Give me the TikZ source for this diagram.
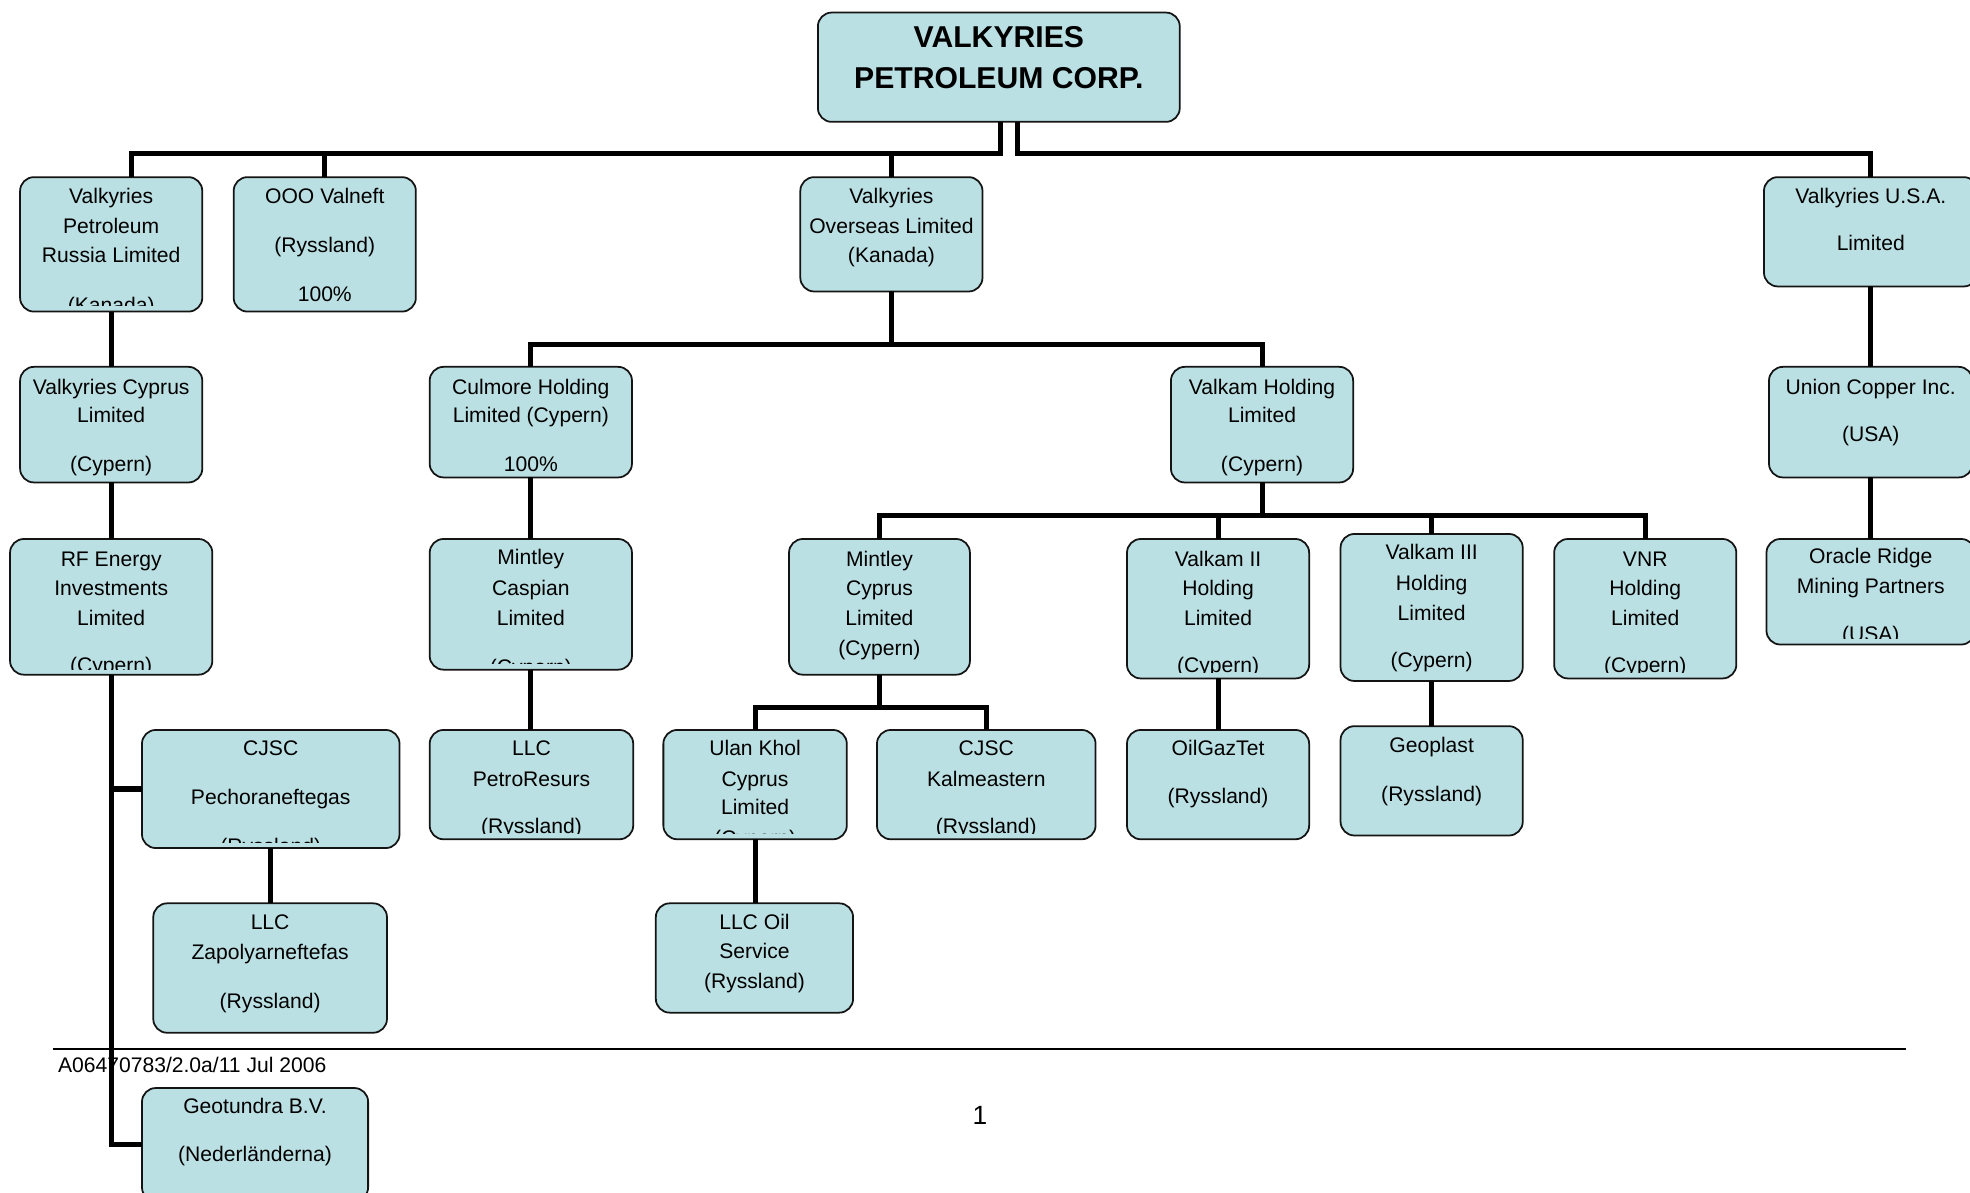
\documentclass[tikz,border=0pt]{standalone}
\usepackage{fontspec}
\setmainfont{Liberation Sans}
\usetikzlibrary{calc}
\definecolor{boxfill}{RGB}{187,224,227}
\definecolor{boxline}{RGB}{20,20,20}
\tikzset{
 orgbox/.style={rectangle, draw=boxline, fill=boxfill, line width=1.4pt, rounded corners=11pt, inner sep=0pt, outer sep=0pt},
 txt/.style={font=\fontsize{16.8}{20}\selectfont, inner sep=0pt, anchor=mid, text=black},
 titletxt/.style={font=\fontsize{24}{28}\selectfont\bfseries, inner sep=0pt, anchor=mid, text=black},
 pagetxt/.style={font=\fontsize{21}{24}\selectfont, inner sep=0pt, anchor=mid, text=black},
 conn/.style={line width=4pt, draw=black, line join=miter},
 rulestyle/.style={line width=1.3pt, draw=black}
}
\newcommand\obox[6]{%
 \node[orgbox, minimum width={(#4-#2)*1pt}, minimum height={(#5-#3)*1pt}] (#1) at ({(#2+#4)/2},{(#3+#5)/2}) {};
 \begin{scope}
 \clip (#2,#3) rectangle (#4,#5-4.5);
 \foreach \ly/\lt [count=\k] in {#6} {\node[txt] (#1-\k) at ({(#2+#4)/2},{\ly+3}) {\lt};}
 \end{scope}}
\begin{document}
\begin{tikzpicture}[x=1pt,y=-1pt]
\useasboundingbox (0,0) rectangle (1568,949);
\fill[white] (0,0) rectangle (1568,949);
% footer
\draw[rulestyle] (42,835) -- (1517,835);
\node[txt, anchor=mid west] (doc) at (46,851) {A06470783/2.0a/11 Jul 2006};
\node[pagetxt] (page) at (780,892) {1};
% top
\node[orgbox, minimum width=288pt, minimum height=87pt] (top) at (795,53.5) {};
\node[titletxt] (top-1) at (795,35) {VALKYRIES};
\node[titletxt] (top-2) at (795,68) {PETROLEUM CORP.};
% level 1
\obox{vprl}{16}{141}{161}{248}{156/Valkyries, 180/Petroleum, 203/Russia Limited, 243/(Kanada)}
\obox{valneft}{186}{141}{331}{248}{156/OOO Valneft, 195/(Ryssland), 234/100\%}
\obox{vol}{637}{141}{782}{232}{156/Valkyries, 180/Overseas Limited, 203/(Kanada)}
\obox{vusa}{1404}{141}{1574}{228}{156/Valkyries U.S.A., 194/Limited}
% level 2
\obox{vcy}{16}{292}{161}{384}{308/Valkyries Cyprus, 331/Limited, 370/(Cypern)}
\obox{culmore}{342}{292}{503}{380}{308/Culmore Holding, 331/Limited (Cypern), 370/100\%}
\obox{valkam}{932}{292}{1077}{384}{308/Valkam Holding, 331/Limited, 370/(Cypern)}
\obox{ucopper}{1408}{292}{1570}{380}{308/Union Copper Inc., 346/(USA)}
% level 3
\obox{rf}{8}{429}{169}{537}{445/RF Energy, 468/Investments, 492/Limited, 530/(Cypern)}
\obox{mcasp}{342}{429}{503}{533}{444/Mintley, 468/Caspian, 492/Limited, 531/(Cypern)}
\obox{mcy}{628}{429}{772}{537}{445/Mintley, 468/Cyprus, 492/Limited, 516/(Cypern)}
\obox{vk2}{897}{429}{1042}{540}{445/Valkam II, 468/Holding, 492/Limited, 530/(Cypern)}
\obox{vk3}{1067}{425}{1212}{542}{440/Valkam III, 464/Holding, 488/Limited, 526/(Cypern)}
\obox{vnr}{1237}{429}{1382}{540}{445/VNR, 468/Holding, 492/Limited, 530/(Cypern)}
\obox{oracle}{1406}{429}{1572}{513}{443/Oracle Ridge, 467/Mining Partners, 505/(USA)}
% level 4
\obox{pech}{113}{581}{318}{675}{596/CJSC, 635/Pechoraneftegas, 674/(Ryssland)}
\obox{petro}{342}{581}{504}{668}{596/LLC, 620/PetroResurs, 658/(Ryssland)}
\obox{ulan}{528}{581}{674}{668}{596/Ulan Khol, 620/Cyprus, 643/Limited, 667/(Cypern)}
\obox{kalm}{698}{581}{872}{668}{596/CJSC, 620/Kalmeastern, 658/(Ryssland)}
\obox{oilgaz}{897}{581}{1042}{668}{596/OilGazTet, 634/(Ryssland)}
\obox{geoplast}{1067}{578}{1212}{665}{593/Geoplast, 632/(Ryssland)}
% level 5
\obox{zapoly}{122}{719}{308}{822}{734/LLC, 758/Zapolyarneftefas, 797/(Ryssland)}
\obox{oilserv}{522}{719}{679}{806}{734/LLC Oil, 757/Service, 781/(Ryssland)}
\obox{geo}{113}{866}{293}{956}{881/Geotundra B.V., 919/(Nederländerna)}
% connectors
\coordinate (tL) at (796,122);
\coordinate (tR) at (810,122);
\coordinate (vprlin) at (105,141);
\draw[conn] (tL |- top.south) -- (tL) -| (vprlin);
\draw[conn] (tL) -| (valneft.north);
\draw[conn] (tL) -| (vol.north);
\draw[conn] (tR |- top.south) -- (tR) -| (vusa.north);
\path (vol.south) ++(0,42) coordinate (vb);
\draw[conn] (vol.south) -- (vb);
\draw[conn] (culmore.north) |- (vb) -| (valkam.north);
\draw[conn] (vprl.south) -- (vprl.south |- vcy.north);
\draw[conn] (vcy.south) -- (vcy.south |- rf.north);
\draw[conn] (rf.south) |- (pech.west);
\draw[conn] (rf.south) |- (geo.west);
\draw[conn] (pech.south) -- (pech.south |- zapoly.north);
\draw[conn] (culmore.south) -- (culmore.south |- mcasp.north);
\draw[conn] (mcasp.south) -- (mcasp.south |- petro.north);
\path (valkam.south) ++(0,26) coordinate (kb);
\draw[conn] (valkam.south) -- (kb);
\draw[conn] (mcy.north) |- (kb) -| (vnr.north);
\draw[conn] (vk2.north) -- (vk2.north |- kb);
\draw[conn] (vk3.north) -- (vk3.north |- kb);
\draw[conn] (vk2.south) -- (vk2.south |- oilgaz.north);
\draw[conn] (vk3.south) -- (vk3.south |- geoplast.north);
\path (mcy.south) ++(0,26) coordinate (mb);
\draw[conn] (mcy.south) -- (mb);
\draw[conn] (ulan.north) |- (mb) -| (kalm.north);
\draw[conn] (ulan.south) -- (ulan.south |- oilserv.north);
\draw[conn] (vusa.south) -- (vusa.south |- ucopper.north);
\draw[conn] (ucopper.south) -- (ucopper.south |- oracle.north);
\end{tikzpicture}
\end{document}
